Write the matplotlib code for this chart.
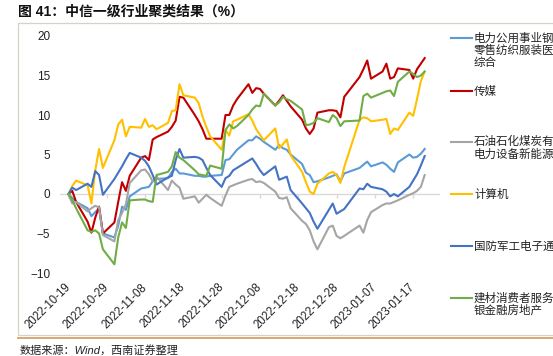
import matplotlib
matplotlib.use('Agg')
import matplotlib.pyplot as plt
import matplotlib.dates as mdates
from matplotlib.lines import Line2D
from matplotlib.patches import Rectangle
import pandas as pd

plt.rcParams['font.family'] = ['Liberation Sans', 'Noto Sans CJK SC', 'DejaVu Sans']

# 交易日
dates = pd.to_datetime([
    '2022-10-19', '2022-10-20', '2022-10-21', '2022-10-24', '2022-10-25', '2022-10-26',
    '2022-10-27', '2022-10-28', '2022-10-31', '2022-11-01', '2022-11-02', '2022-11-03',
    '2022-11-04', '2022-11-07', '2022-11-08', '2022-11-09', '2022-11-10', '2022-11-11',
    '2022-11-14', '2022-11-15', '2022-11-16', '2022-11-17', '2022-11-18', '2022-11-21',
    '2022-11-22', '2022-11-23', '2022-11-24', '2022-11-25', '2022-11-28', '2022-11-29',
    '2022-11-30', '2022-12-01', '2022-12-02', '2022-12-05', '2022-12-06', '2022-12-07',
    '2022-12-08', '2022-12-09', '2022-12-12', '2022-12-13', '2022-12-14', '2022-12-15',
    '2022-12-16', '2022-12-19', '2022-12-20', '2022-12-21', '2022-12-22', '2022-12-23',
    '2022-12-26', '2022-12-27', '2022-12-28', '2022-12-29', '2022-12-30', '2023-01-03',
    '2023-01-04', '2023-01-05', '2023-01-06', '2023-01-09', '2023-01-10', '2023-01-11',
    '2023-01-12', '2023-01-13', '2023-01-16', '2023-01-17', '2023-01-18', '2023-01-19',
    '2023-01-20'])

dianli = [0, -0.5, -1.0, -1.8, -2.8, -2.3, -1.8, -5.0, -5.5, -4.0,
          -1.6, -2.0, -0.3, 0.7, 0.8, 0.9, 1.6, 1.9, 2.0, 2.8,
          3.2, 2.6, 2.6, 2.3, 2.3, 2.2, 2.2, 2.3, 2.4, 4.3,
          4.4, 5.0, 5.6, 6.8, 6.8, 7.3, 7.0, 6.6, 5.6, 6.2,
          5.8, 5.6, 5.0, 3.8, 2.7, 2.4, 1.5, 1.6, 2.1, 2.3,
          2.5, 1.6, 2.6, 3.3, 3.7, 4.1, 3.5, 4.0, 3.7, 3.2,
          2.8, 4.0, 5.0, 4.6, 4.7, 5.1, 5.7]

chuanmei = [0, 0.4, -1.0, -3.5, -4.9, -3.0, -1.6, -5.0, -3.6, -1.0,
            1.5, 0.4, 2.3, 4.6, 4.8, 4.3, 6.9, 7.2, 7.9, 8.5,
            9.3, 12.3, 12.2, 10.0, 9.2, 8.2, 7.0, 7.0, 7.0, 10.0,
            10.0, 11.2, 12.0, 13.9, 12.8, 13.4, 13.3, 12.7, 11.2, 11.8,
            12.5, 11.8, 11.1, 9.4, 8.3, 7.6, 8.3, 10.3, 10.6, 10.6,
            10.5, 9.7, 12.3, 14.8, 15.8, 16.9, 14.6, 15.5, 16.5, 14.6,
            14.8, 15.9, 15.7, 14.6, 15.8, 16.5, 17.2]

shiyou = [0, -1.2, -1.0, -2.2, -1.8, -1.5, -1.7, -5.2, -6.0, -3.3,
          -2.4, -1.3, 1.4, 3.0, 3.1, 2.5, 1.6, 2.2, 0.5, 1.7,
          1.2, 0.8, -0.6, -0.3, -1.1, -0.6, -0.1, -0.5, -1.5, -0.2,
          0.9, 1.1, 1.3, 1.8, 1.9, 1.5, 1.6, 1.4, 0.3, -0.5,
          -0.6, -0.4, -1.8, -3.4, -3.8, -4.6, -6.0, -7.0, -4.2, -4.0,
          -5.3, -5.6, -5.3, -4.0, -4.9, -3.3, -2.3, -1.4, -1.2, -1.2,
          -1.0, -0.8, -0.1, 0.1, 0.4, 0.9, 2.4]

jisuanji = [0, 1.0, 1.7, 1.1, -1.2, 3.0, 5.7, 3.3, 6.8, 8.8,
            9.4, 7.3, 8.5, 8.4, 9.5, 8.5, 8.7, 8.2, 9.0, 10.5,
            10.6, 13.9, 12.5, 12.2, 11.5, 9.8, 8.5, 7.3, 5.6, 8.1,
            7.4, 9.2, 9.4, 10.1, 9.3, 8.2, 7.5, 6.8, 8.3, 5.8,
            6.3, 6.9, 4.9, 2.8, 1.5, 0.3, 0.0, 1.3, 2.6, 2.8,
            2.4, 1.4, 3.4, 9.4, 9.7, 9.6, 9.2, 9.4, 9.5, 7.6,
            8.3, 8.1, 10.3, 9.9, 12.0, 14.3, 15.5]

guofang = [0, 0.8, 0.5, 1.3, 0.9, 2.9, 2.4, -0.1, 1.9, 2.7,
           3.5, 4.4, 5.2, 4.6, 4.2, 3.5, 2.4, 1.2, 2.1, 2.3,
           4.3, 5.7, 4.6, 4.7, 4.6, 4.3, 3.3, 2.4, 0.9, 2.0,
           2.3, 3.0, 3.3, 4.2, 4.5, 3.8, 3.0, 2.4, 3.5, 1.8,
           2.0, 2.2, 0.5, -1.2, -1.8, -2.4, -3.5, -4.4, -2.0, -1.2,
           -2.5, -2.2, -1.9, 0.7, 0.6, 1.3, 0.9, 0.6, 0.3, -0.3,
           0.0, -0.3, 0.9, 1.7, 2.5, 3.6, 4.8]

jiancai = [0, -0.8, -1.8, -4.6, -4.8, -4.6, -5.0, -7.0, -8.9, -5.5,
           -3.6, -4.3, -0.8, -0.7, -0.7, -0.9, -1.0, 2.4, 2.8, 3.5,
           5.3, 4.6, 4.3, 3.0, 2.5, 2.4, 2.3, 3.6, 3.2, 8.1,
           8.8, 8.3, 8.6, 10.0, 10.7, 11.2, 11.1, 12.7, 11.2, 11.6,
           12.3, 12.0, 11.8, 10.7, 8.7, 8.8, 9.0, 9.6, 9.1, 10.0,
           9.6, 8.6, 9.2, 9.3, 12.4, 12.7, 12.2, 12.8, 13.0, 13.1,
           12.4, 14.2, 15.5, 15.2, 14.8, 15.0, 15.5]

series = [
    (dianli, '#5B9BD5', ['电力公用事业钢', '零售纺织服装医', '综合']),
    (chuanmei, '#C00000', ['传媒']),
    (shiyou, '#A5A5A5', ['石油石化煤炭有', '电力设备新能源']),
    (jisuanji, '#FFC000', ['计算机']),
    (guofang, '#4472C4', ['国防军工电子通']),
    (jiancai, '#70AD47', ['建材消费者服务', '银金融房地产']),
]
legend_y = [38, 91, 142, 194, 246, 298]

tick_dates = pd.to_datetime(['2022-10-19', '2022-10-29', '2022-11-08', '2022-11-18',
                             '2022-11-28', '2022-12-08', '2022-12-18', '2022-12-28',
                             '2023-01-07', '2023-01-17'])

W, H = 553, 356
fig = plt.figure(figsize=(W / 100, H / 100), dpi=100)
ax = fig.add_axes([60 / W, 1 - 273 / H, 380 / W, 237 / H])

start = pd.Timestamp('2022-10-19')
ax.set_xlim(start - pd.Timedelta(days=2.2), start + pd.Timedelta(days=97))
ax.set_ylim(-10, 20)

ax.axhline(0, color='#d9d9d9', lw=1, zorder=1)
ax.vlines(tick_dates, -0.45, 0, color='#d9d9d9', lw=1, zorder=1)

for vals, col, _ in series:
    ax.plot(dates, vals, color=col, lw=1.5, zorder=3)

for s in ax.spines.values():
    s.set_visible(False)
ax.set_yticks([-10, -5, 0, 5, 10, 15, 20])
ax.set_xticks(tick_dates)
ax.xaxis.set_major_formatter(mdates.DateFormatter('%Y-%m-%d'))
ax.tick_params(axis='y', length=0, pad=7, labelsize=8.5, labelcolor='#222222')
ax.tick_params(axis='x', length=0, pad=9, labelsize=8.3, labelcolor='#222222')
for lab in ax.get_xticklabels():
    lab.set_rotation(45)
    lab.set_ha('right')
    lab.set_rotation_mode('anchor')
    lab.set_va('center')

# 图例
for (vals, col, names), y0 in zip(series, legend_y):
    yf = 1 - y0 / H
    fig.add_artist(Line2D([451 / W, 472 / W], [yf, yf], color=col, lw=1.5,
                          transform=fig.transFigure))
    for k, name in enumerate(names):
        fig.text(474 / W, 1 - (y0 + k * 12.3) / H, name, fontsize=8.3,
                 family=['Noto Sans CJK SC', 'DejaVu Sans'], color='#222222',
                 va='center', ha='left')

# 边框
fig.add_artist(Rectangle((18 / W, 1 - 335 / H), 1.1, (335 - 23) / H, fill=False,
                         edgecolor='#d6d2ca', lw=0.9, transform=fig.transFigure))
fig.add_artist(Line2D([18 / W, 1], [1 - 338 / H] * 2, color='#d9a066', lw=1.3,
                      transform=fig.transFigure))

fig.text(18 / W, 1 - 12 / H, '图 41：中信一级行业聚类结果（%）', fontsize=10,
         fontweight='bold', color='#111111', va='center', ha='left',
         family=['Liberation Sans', 'Noto Sans CJK SC'])
fig.text(20 / W, 1 - 350 / H, '数据来源：Wind，西南证券整理', fontsize=8,
         style='italic', color='#222222', va='center', ha='left',
         family=['Liberation Sans', 'Noto Sans CJK SC'])

fig.savefig('out.png', dpi=100)
